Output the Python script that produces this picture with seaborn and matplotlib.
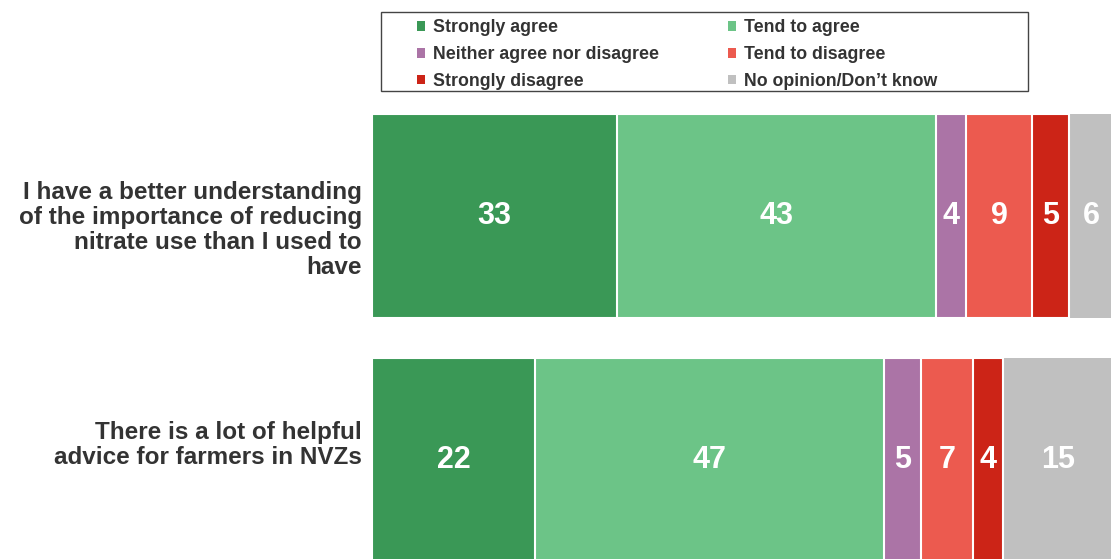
import matplotlib
matplotlib.use("Agg")
import matplotlib.pyplot as plt
from matplotlib.patches import Patch, Rectangle
import numpy as np
import pandas as pd
import seaborn as sns

categories = [
    "I have a better understanding\nof the importance of reducing\nnitrate use than I used to\nhave",
    "There is a lot of helpful\nadvice for farmers in NVZs",
]
responses = ["Strongly agree", "Tend to agree", "Neither agree nor disagree",
             "Tend to disagree", "Strongly disagree", "No opinion/Don\u2019t know"]
strongly_agree = [33, 22]
tend_to_agree = [43, 47]
neither = [4, 5]
tend_to_disagree = [9, 7]
strongly_disagree = [5, 4]
no_opinion = [6, 15]
colors = ["#3A9856", "#6CC487", "#AB74A6", "#EC5A4F", "#CC2417", "#C0C0C0"]

sns.set_theme(style="white")
plt.rcParams["font.family"] = ["Liberation Sans", "DejaVu Sans"]
plt.rcParams["font.weight"] = "bold"

series = [strongly_agree, tend_to_agree, neither, tend_to_disagree,
          strongly_disagree, no_opinion]
df = pd.DataFrame({r: v for r, v in zip(responses, series)}, index=categories)
cum = df.cumsum(axis=1)

W, H = 1111, 559
fig = plt.figure(figsize=(W / 100, H / 100), dpi=100)
ax = fig.add_axes([372 / W, 0, 742 / W, 1])

# stacked bars: draw cumulative totals from the outermost segment inwards
for i in range(len(responses) - 1, -1, -1):
    r = responses[i]
    edge = "none" if i == len(responses) - 1 else "white"
    sns.barplot(x=cum[r].values, y=categories, orient="h", color=colors[i],
                width=0.836, edgecolor=edge, linewidth=1.5, saturation=1,
                ax=ax)

# segment value labels
for j, cat in enumerate(categories):
    left = 0
    for r in responses:
        v = df.loc[cat, r]
        ax.text(left + v / 2, j, f"{v}", ha="center", va="center",
                color="white", fontsize=22, fontweight="bold")
        left += v

ax.set_xlim(0, 100)
ax.set_ylim(1.406, -0.885)
ax.set_xlabel("")
ax.set_ylabel("")
ax.set_xticks([])
ax.set_yticks([])
for s in ax.spines.values():
    s.set_visible(False)

# category labels to the left of the bars
label_centres = [230, 445]
for cat, yc in zip(categories, label_centres):
    fig.text(362 / W, 1 - yc / H, cat, ha="right", va="center",
             fontsize=17.5, fontweight="bold", color="#333333",
             linespacing=1.1, multialignment="right")

# legend: frame box plus two columns filled row by row
fig.patches.append(Rectangle((381 / W, 1 - 91 / H), (1028 - 381) / W,
                             (91 - 12) / H, transform=fig.transFigure,
                             facecolor="white", edgecolor="#444444",
                             linewidth=1.0, zorder=5))
order = [0, 2, 4, 1, 3, 5]
handles = [Patch(facecolor=colors[k], edgecolor="none", label=responses[k])
           for k in order]
leg = fig.legend(handles=handles, ncol=2, loc="upper left",
                 bbox_to_anchor=(417 / W, 1 - 19.5 / H),
                 frameon=False, fontsize=12.8, handlelength=0.45,
                 handleheight=0.45, handletextpad=0.45, columnspacing=3.9,
                 labelspacing=0.54, borderpad=0, borderaxespad=0)
leg.set_zorder(6)
for t in leg.get_texts():
    t.set_color("#333333")
    t.set_fontweight("bold")

fig.savefig("out.png", dpi=100)
